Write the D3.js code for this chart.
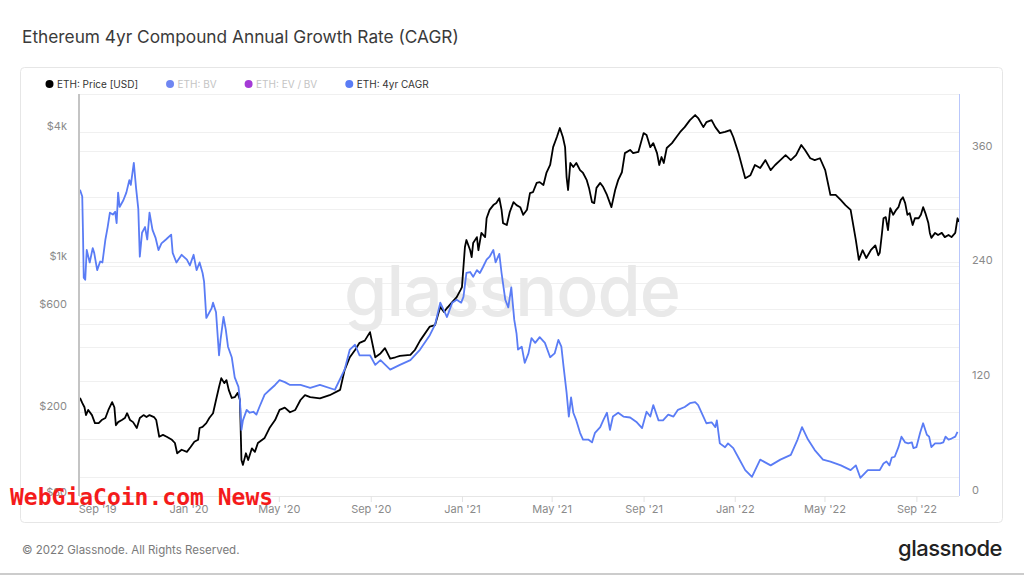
<!DOCTYPE html>
<html><head><meta charset="utf-8">
<script src="https://cdn.jsdelivr.net/npm/d3@7"></script>
<style>
body{margin:0;background:#fff;}
svg{display:block;font-family:Inter,"Noto Sans",sans-serif;}
</style></head><body>
<svg id="chart" width="1024" height="576"></svg>
<script>
const priceDates = ["2019-08-09","2019-08-12","2019-08-15","2019-08-17","2019-08-20","2019-08-25","2019-08-29","2019-09-03","2019-09-07","2019-09-12","2019-09-16","2019-09-21","2019-09-24","2019-09-26","2019-09-29","2019-10-04","2019-10-08","2019-10-11","2019-10-15","2019-10-19","2019-10-24","2019-10-28","2019-11-02","2019-11-06","2019-11-10","2019-11-16","2019-11-19","2019-11-23","2019-11-28","2019-12-03","2019-12-10","2019-12-14","2019-12-17","2019-12-23","2019-12-30","2020-01-04","2020-01-09","2020-01-14","2020-01-16","2020-01-20","2020-01-25","2020-01-29","2020-02-03","2020-02-07","2020-02-11","2020-02-14","2020-02-18","2020-02-21","2020-02-24","2020-02-28","2020-03-03","2020-03-07","2020-03-10","2020-03-12","2020-03-14","2020-03-18","2020-03-21","2020-03-26","2020-03-30","2020-04-03","2020-04-12","2020-04-19","2020-04-26","2020-05-02","2020-05-09","2020-05-16","2020-05-23","2020-05-30","2020-06-05","2020-06-12","2020-06-25","2020-07-08","2020-07-22","2020-07-28","2020-08-04","2020-08-11","2020-08-17","2020-08-24","2020-08-31","2020-09-07","2020-09-14","2020-09-20","2020-09-27","2020-10-04","2020-10-10","2020-10-24","2020-10-30","2020-11-06","2020-11-19","2020-11-26","2020-12-03","2020-12-08","2020-12-12","2020-12-19","2020-12-25","2020-12-30","2021-01-01","2021-01-03","2021-01-05","2021-01-07","2021-01-12","2021-01-14","2021-01-16","2021-01-21","2021-01-23","2021-01-27","2021-02-01","2021-02-03","2021-02-07","2021-02-12","2021-02-16","2021-02-20","2021-02-23","2021-02-25","2021-03-02","2021-03-06","2021-03-11","2021-03-15","2021-03-20","2021-03-24","2021-03-29","2021-04-02","2021-04-06","2021-04-11","2021-04-15","2021-04-20","2021-04-24","2021-04-29","2021-05-03","2021-05-08","2021-05-12","2021-05-16","2021-05-19","2021-05-21","2021-05-23","2021-05-26","2021-05-30","2021-06-03","2021-06-08","2021-06-12","2021-06-17","2021-06-20","2021-06-24","2021-06-27","2021-06-30","2021-07-05","2021-07-09","2021-07-14","2021-07-18","2021-07-20","2021-07-25","2021-07-29","2021-08-03","2021-08-07","2021-08-14","2021-08-18","2021-08-25","2021-09-01","2021-09-05","2021-09-10","2021-09-14","2021-09-19","2021-09-22","2021-09-25","2021-09-28","2021-10-02","2021-10-09","2021-10-15","2021-10-20","2021-10-26","2021-11-02","2021-11-09","2021-11-13","2021-11-20","2021-11-24","2021-12-01","2021-12-06","2021-12-12","2021-12-19","2021-12-26","2021-12-30","2022-01-06","2022-01-15","2022-01-22","2022-01-28","2022-02-04","2022-02-11","2022-02-18","2022-02-24","2022-03-03","2022-03-10","2022-03-17","2022-03-24","2022-03-31","2022-04-05","2022-04-12","2022-04-18","2022-04-25","2022-05-02","2022-05-09","2022-05-16","2022-05-23","2022-05-29","2022-06-05","2022-06-12","2022-06-16","2022-06-21","2022-06-26","2022-07-02","2022-07-08","2022-07-12","2022-07-14","2022-07-17","2022-07-19","2022-07-22","2022-07-25","2022-07-28","2022-08-01","2022-08-05","2022-08-08","2022-08-11","2022-08-14","2022-08-17","2022-08-20","2022-08-23","2022-08-27","2022-08-30","2022-09-04","2022-09-07","2022-09-10","2022-09-13","2022-09-17","2022-09-19","2022-09-21","2022-09-26","2022-09-30","2022-10-05","2022-10-09","2022-10-14","2022-10-18","2022-10-23","2022-10-26","2022-10-28"];
const priceValues = [233,221,211,194,205,194,178,178,184,188,205,223,211,174,180,184,188,198,184,180,169,188,194,190,194,190,184,154,157,154,149,144,129,134,131,138,146,149,169,171,178,188,198,228,262,288,273,282,254,233,235,246,228,120,114,129,120,136,131,144,152,170,184,205,210,200,205,228,240,235,232,240,254,314,360,389,420,430,471,360,375,397,355,360,365,369,389,430,500,508,616,584,609,649,685,738,762,944,1170,1260,1130,1050,1220,1300,1130,1360,1300,1590,1740,1830,1870,1970,1740,1510,1480,1700,1890,1830,1790,1650,1740,2080,2100,2320,2340,2270,2580,2810,3400,3790,4170,3790,3400,2470,2150,2870,2750,2870,2660,2580,2390,2200,1890,1870,2200,2320,2220,2040,1870,1790,2150,2390,2600,3190,3300,3190,3230,3950,3870,3400,3550,3190,2810,3060,2870,3370,3550,3790,4000,4210,4540,4790,4640,4210,4440,4540,4210,3950,4000,4080,3790,3190,2440,2520,2810,2720,2960,2660,2810,2960,3120,2960,3120,3480,3300,3020,2960,3020,2660,2040,2040,1930,1830,1740,1260,1020,1130,1040,1130,1190,1070,1100,1360,1590,1610,1400,1770,1650,1740,1790,1930,1990,1870,1650,1680,1480,1590,1590,1650,1790,1680,1510,1360,1290,1360,1330,1360,1300,1330,1300,1360,1590,1530];

const cagrDates = ["2019-08-09","2019-08-12","2019-08-13","2019-08-14","2019-08-16","2019-08-18","2019-08-22","2019-08-26","2019-08-28","2019-09-01","2019-09-05","2019-09-08","2019-09-12","2019-09-15","2019-09-18","2019-09-22","2019-09-25","2019-09-27","2019-09-29","2019-10-01","2019-10-06","2019-10-10","2019-10-14","2019-10-16","2019-10-20","2019-10-23","2019-10-26","2019-10-28","2019-10-31","2019-11-04","2019-11-07","2019-11-10","2019-11-14","2019-11-18","2019-11-22","2019-11-26","2019-12-02","2019-12-09","2019-12-11","2019-12-16","2019-12-23","2019-12-30","2020-01-03","2020-01-08","2020-01-12","2020-01-16","2020-01-20","2020-01-22","2020-01-25","2020-02-01","2020-02-03","2020-02-07","2020-02-11","2020-02-13","2020-02-17","2020-02-20","2020-02-23","2020-02-28","2020-03-03","2020-03-08","2020-03-10","2020-03-12","2020-03-14","2020-03-19","2020-03-23","2020-03-28","2020-04-01","2020-04-05","2020-04-12","2020-04-19","2020-04-26","2020-05-02","2020-05-09","2020-05-16","2020-05-30","2020-06-12","2020-06-25","2020-07-15","2020-07-28","2020-08-04","2020-08-11","2020-08-17","2020-08-31","2020-09-07","2020-09-14","2020-09-27","2020-10-10","2020-10-24","2020-11-06","2020-11-19","2020-11-26","2020-12-03","2020-12-12","2020-12-19","2020-12-25","2020-12-31","2021-01-03","2021-01-07","2021-01-12","2021-01-16","2021-01-21","2021-01-25","2021-01-29","2021-02-03","2021-02-07","2021-02-12","2021-02-15","2021-02-20","2021-02-23","2021-02-28","2021-03-04","2021-03-08","2021-03-12","2021-03-15","2021-03-17","2021-03-22","2021-03-26","2021-03-31","2021-04-04","2021-04-09","2021-04-15","2021-04-22","2021-04-29","2021-05-05","2021-05-10","2021-05-14","2021-05-17","2021-05-21","2021-05-24","2021-05-27","2021-05-30","2021-06-03","2021-06-08","2021-06-12","2021-06-19","2021-06-24","2021-06-28","2021-07-05","2021-07-09","2021-07-14","2021-07-18","2021-07-22","2021-07-29","2021-08-05","2021-08-14","2021-08-23","2021-08-30","2021-09-05","2021-09-10","2021-09-14","2021-09-21","2021-09-27","2021-10-04","2021-10-11","2021-10-17","2021-10-26","2021-11-02","2021-11-09","2021-11-13","2021-11-20","2021-11-24","2021-12-01","2021-12-06","2021-12-08","2021-12-12","2021-12-19","2021-12-23","2021-12-30","2022-01-06","2022-01-15","2022-01-24","2022-02-04","2022-02-18","2022-03-03","2022-03-17","2022-03-26","2022-04-01","2022-04-09","2022-04-18","2022-04-29","2022-05-09","2022-05-23","2022-06-05","2022-06-12","2022-06-18","2022-06-28","2022-07-08","2022-07-14","2022-07-19","2022-07-23","2022-07-27","2022-07-30","2022-08-03","2022-08-08","2022-08-12","2022-08-17","2022-08-21","2022-08-26","2022-08-28","2022-09-01","2022-09-06","2022-09-10","2022-09-15","2022-09-18","2022-09-21","2022-09-26","2022-10-03","2022-10-07","2022-10-10","2022-10-14","2022-10-18","2022-10-23","2022-10-26"];
const cagrValues = [320,313,275,228,226,257,244,259,254,236,245,244,268,281,296,294,297,285,317,302,309,317,330,325,348,322,300,250,275,281,268,296,278,270,257,264,268,273,254,244,252,247,241,252,236,244,233,224,186,196,202,192,147,163,187,174,156,145,124,114,100,69,79,90,87,88,85,93,106,111,116,121,119,116,116,113,116,111,132,153,158,147,147,137,142,132,137,142,153,168,179,202,187,202,205,202,208,233,234,229,236,233,239,247,250,257,244,253,233,205,197,218,184,170,153,156,139,149,165,160,166,160,145,149,163,156,135,108,83,103,87,79,66,59,59,56,66,72,79,87,69,83,87,83,82,77,71,88,83,95,79,79,85,83,90,93,97,98,95,83,76,77,72,79,55,51,55,50,40,27,20,38,32,38,43,59,72,59,48,38,36,32,27,32,19,27,27,27,34,36,32,40,41,51,62,56,55,56,50,51,66,76,64,62,51,55,55,56,62,59,60,62,67];

const leftTickValues = [80, 200, 600, 1000, 4000];
const leftTickLabels = ["$80", "$200", "$600", "$1k", "$4k"];
const leftGridValues = [80, 100, 200, 400, 600, 800, 1000, 2000, 4000];
const rightTickValues = [0, 120, 240, 360];
const rightGridValues = [0, 60, 120, 180, 240, 300, 360, 420];
const legendItems = ["ETH: Price [USD]", "ETH: BV", "ETH: EV / BV", "ETH: 4yr CAGR"];
const legendColors = ["#000000", "#6f86f2", "#a43ad6", "#5a7cf5"];
const legendActive = [true, false, false, true];

const W = 1024, H = 576;
const plot = {left: 79, right: 959, top: 94, bottom: 496};
const svg = d3.select("#chart");
const parse = d3.utcParse("%Y-%m-%d");
const pDates = priceDates.map(parse), cDates = cagrDates.map(parse);

const x = d3.scaleUtc().domain(d3.extent(pDates.concat(cDates))).range([80, 959]);
const yL = d3.scaleLog().domain([80, 6000]).range([498, plot.top]);
const yR = d3.scaleLinear().domain([0, 420]).range([plot.bottom, plot.top]);

// title
svg.append("text").attr("x", 22).attr("y", 43).attr("font-size", 17.3).attr("fill", "#3a3a3a")
  .text("Ethereum 4yr Compound Annual Growth Rate (CAGR)");

// card
svg.append("rect").attr("x", 20.5).attr("y", 67.5).attr("width", 982).attr("height", 455)
  .attr("rx", 4).attr("fill", "none").attr("stroke", "#e6e6e6");

// legend
let lx = 49.5;
const lg = svg.append("g");
legendItems.forEach((t, i) => {
  lg.append("circle").attr("cx", lx).attr("cy", 84).attr("r", 4).attr("fill", legendColors[i]);
  const tx = lg.append("text").attr("x", lx + 7.5).attr("y", 87.8).attr("font-size", 10)
    .attr("fill", legendActive[i] ? "#333" : "#c4c4c4").text(t);
  lx = lx + 7.5 + tx.node().getComputedTextLength() + 32;
});

// gridlines
const grid = svg.append("g").attr("stroke", "#f0f0f0").attr("stroke-width", 1);
leftGridValues.forEach(v => {
  const yy = Math.round(yL(v)) + 0.5;
  if (yy <= plot.bottom) grid.append("line").attr("x1", plot.left).attr("x2", plot.right).attr("y1", yy).attr("y2", yy);
});
rightGridValues.forEach(v => {
  const yy = Math.round(yR(v)) + 0.5;
  grid.append("line").attr("x1", plot.left).attr("x2", plot.right).attr("y1", yy).attr("y2", yy);
});

// watermark
svg.append("text").attr("x", 512).attr("y", 316).attr("text-anchor", "middle")
  .attr("font-size", 70).attr("font-weight", 500).attr("fill", "#e9e9e9").attr("letter-spacing", -1).text("glassnode");

// bottom axis
svg.append("line").attr("x1", plot.left).attr("x2", plot.right).attr("y1", plot.bottom + 0.5).attr("y2", plot.bottom + 0.5).attr("stroke", "#e6e6e6");
const xt = svg.append("g").attr("transform", `translate(0,${plot.bottom})`)
  .call(d3.axisBottom(x).ticks(d3.utcMonth.every(4)).tickFormat(d3.utcFormat("%b '%y")).tickSize(6).tickSizeOuter(0));
xt.select(".domain").remove();
xt.selectAll(".tick line").attr("stroke", "#e3e3e3");
xt.selectAll(".tick text").attr("fill", "#8a8a8a").attr("font-size", 11).attr("font-family", "Inter,'Noto Sans',sans-serif").attr("dy", "0.72em");

// left axis labels
const la = svg.append("g").attr("transform", `translate(${plot.left},0)`)
  .call(d3.axisLeft(yL).tickValues(leftTickValues).tickFormat((d, i) => leftTickLabels[i]).tickSize(0).tickPadding(12));
la.select(".domain").remove();
la.selectAll(".tick text").attr("fill", "#8a8a8a").attr("font-size", 11).attr("font-family", "Inter,'Noto Sans',sans-serif").attr("dy", "-0.22em");

// right axis labels
const ra = svg.append("g").attr("transform", `translate(${plot.right},0)`)
  .call(d3.axisRight(yR).tickValues(rightTickValues).tickFormat(d3.format("d")).tickSize(0).tickPadding(13));
ra.select(".domain").remove();
ra.selectAll(".tick text").attr("fill", "#8a8a8a").attr("font-size", 11).attr("font-family", "Inter,'Noto Sans',sans-serif").attr("dy", "-0.22em");

// clip
svg.append("clipPath").attr("id", "clip").append("rect")
  .attr("x", plot.left).attr("y", plot.top).attr("width", plot.right - plot.left).attr("height", plot.bottom - plot.top + 2);

const priceLine = d3.line().x((d, i) => x(pDates[i])).y(d => yL(d));
const cagrLine = d3.line().x((d, i) => x(cDates[i])).y(d => yR(d));

const lines = svg.append("g").attr("clip-path", "url(#clip)");
lines.append("path").datum(priceValues).attr("d", priceLine).attr("fill", "none")
  .attr("stroke", "#000").attr("stroke-width", 1.8).attr("stroke-linejoin", "round");
lines.append("path").datum(cagrValues).attr("d", cagrLine).attr("fill", "none")
  .attr("stroke", "#5a7cf5").attr("stroke-width", 1.8).attr("stroke-linejoin", "round");

// axis lines
svg.append("line").attr("x1", plot.left).attr("x2", plot.left).attr("y1", plot.top).attr("y2", plot.bottom).attr("stroke", "#c4c4c4").attr("stroke-width", 2);
svg.append("line").attr("x1", plot.right + 0.5).attr("x2", plot.right + 0.5).attr("y1", plot.top).attr("y2", plot.bottom).attr("stroke", "#b9c7fb").attr("stroke-width", 1);

// footer
svg.append("text").attr("x", 22).attr("y", 554).attr("font-size", 11.5).attr("fill", "#7a7a7a")
  .text("© 2022 Glassnode. All Rights Reserved.");
svg.append("text").attr("x", 1002).attr("y", 556).attr("text-anchor", "end").attr("font-size", 22)
  .attr("font-weight", 500).attr("fill", "#222").attr("letter-spacing", -0.5).text("glassnode");
svg.append("line").attr("x1", 0).attr("x2", W).attr("y1", 574).attr("y2", 574).attr("stroke", "#cccccc").attr("stroke-width", 2);

// overlay stamp
svg.append("text").attr("x", 10).attr("y", 505).attr("font-size", 23).attr("font-weight", "bold")
  .attr("font-family", "'DejaVu Sans Mono',monospace").attr("fill", "#f41b1b").text("WebGiaCoin.com News");
</script>
</body></html>
